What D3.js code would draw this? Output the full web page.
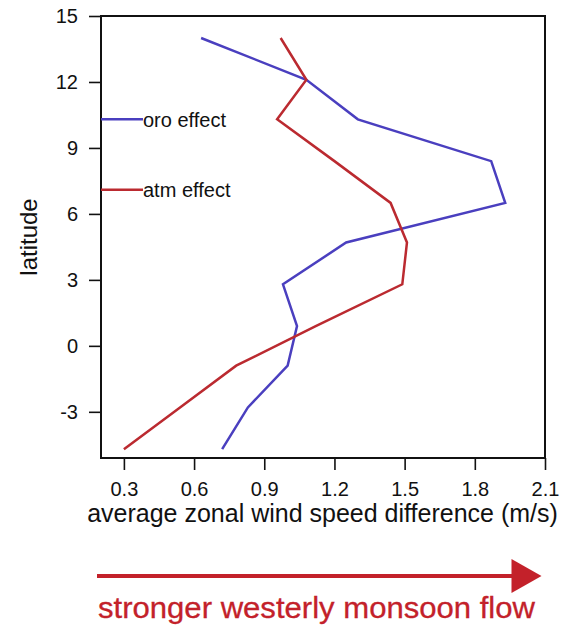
<!DOCTYPE html>
<html>
<head>
<meta charset="utf-8">
<script src="https://cdn.jsdelivr.net/npm/d3@7"></script>
<style>
  html, body { margin: 0; padding: 0; background: #fff; }
  svg { display: block; }
  text { font-family: "Liberation Sans", Arial, Helvetica, sans-serif; fill: #111; }
</style>
</head>
<body>
<svg id="chart" width="572" height="628"></svg>
<script>
// ---- data ----
const latitudes = [14.0, 12.1, 10.3, 8.4, 6.5, 4.7, 2.8, 0.9, -0.9, -2.8, -4.7];
const oroEffect = [0.63, 1.08, 1.30, 1.87, 1.93, 1.25, 0.98, 1.04, 1.00, 0.83, 0.72];
const atmEffect = [0.97, 1.08, 0.955, 1.20, 1.44, 1.51, 1.49, 1.12, 0.78, 0.54, 0.30];
const seriesNames = ["oro effect", "atm effect"];
const seriesColors = ["#4a3fbf", "#bb2a30"];
const xTicks = [0.3, 0.6, 0.9, 1.2, 1.5, 1.8, 2.1];
const yTicks = [-3, 0, 3, 6, 9, 12, 15];
const xTitle = "average zonal wind speed difference (m/s)";
const yTitle = "latitude";
const arrowLabel = "stronger westerly monsoon flow";

// ---- layout ----
const svg = d3.select("#chart");
const L = 101, T = 16, R = 545, B = 458;

const x = d3.scaleLinear().domain([0.2, 2.1]).range([100.5, R]);
const y = d3.scaleLinear().domain([-5.1, 15]).range([B, T]);

// axes
const xAxis = svg.append("g").attr("transform", `translate(0,${B})`)
  .call(d3.axisBottom(x).tickValues(xTicks).tickFormat(d => d.toFixed(1)).tickSize(12).tickPadding(12));
const yAxis = svg.append("g").attr("transform", `translate(${L},0)`)
  .call(d3.axisLeft(y).tickValues(yTicks).tickFormat(d => String(d)).tickSize(12).tickPadding(11));
[xAxis, yAxis].forEach(g => {
  g.select(".domain").remove();
  g.selectAll(".tick line").attr("stroke", "#111").attr("stroke-width", 1.6);
  g.selectAll(".tick text").attr("font-size", 20).attr("fill", "#111")
    .attr("font-family", '"Liberation Sans", Arial, sans-serif');
});

// frame
svg.append("rect").attr("x", L).attr("y", T).attr("width", R - L).attr("height", B - T)
  .attr("fill", "none").attr("stroke", "#111").attr("stroke-width", 2);

// lines
const line = d3.line().x(d => x(d[0])).y(d => y(d[1]));
[oroEffect, atmEffect].forEach((vals, i) => {
  svg.append("path")
    .datum(vals.map((v, j) => [v, latitudes[j]]))
    .attr("d", line)
    .attr("fill", "none")
    .attr("stroke", seriesColors[i])
    .attr("stroke-width", 2.5)
    .attr("stroke-linejoin", "miter");
});

// legend
const legendY = [10.3, 7.1];
seriesNames.forEach((name, i) => {
  const ly = y(legendY[i]);
  svg.append("line").attr("x1", L).attr("x2", 143).attr("y1", ly).attr("y2", ly)
    .attr("stroke", seriesColors[i]).attr("stroke-width", 2.5);
  svg.append("text").attr("x", 143).attr("y", ly + 7.5).attr("font-size", 20).text(name);
});

// axis titles
svg.append("text").attr("x", (85 + 560) / 2).attr("y", 522).attr("text-anchor", "middle")
  .attr("font-size", 25).text(xTitle);
svg.append("text").attr("transform", `translate(37,237) rotate(-90)`).attr("text-anchor", "middle")
  .attr("font-size", 24).text(yTitle);

// arrow
const arrowColor = "#c3212a";
svg.append("line").attr("x1", 97).attr("x2", 514).attr("y1", 576).attr("y2", 576)
  .attr("stroke", arrowColor).attr("stroke-width", 4);
svg.append("path").attr("d", "M511.5,559 L541.5,576 L511.5,593 Z").attr("fill", arrowColor);
svg.append("text").attr("x", 98).attr("y", 618)
  .attr("font-family", '"DejaVu Sans", Verdana, sans-serif')
  .attr("font-size", 29)
  .attr("textLength", 437).attr("lengthAdjust", "spacingAndGlyphs")
  .style("fill", arrowColor)
  .style("stroke", arrowColor).style("stroke-width", 0.3)
  .text(arrowLabel);
</script>
</body>
</html>
